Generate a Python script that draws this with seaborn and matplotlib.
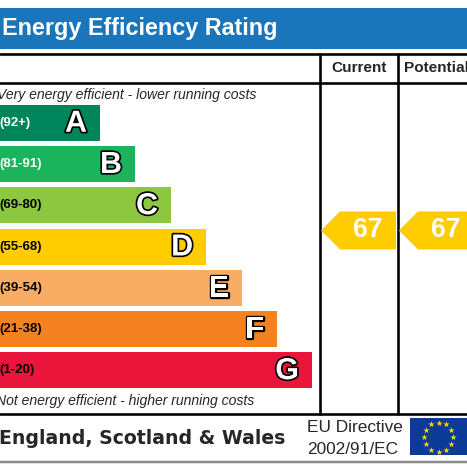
import numpy as np
import matplotlib
matplotlib.use("Agg")
import matplotlib.pyplot as plt
import matplotlib.patheffects as pe
from matplotlib.patches import Rectangle, Polygon
import seaborn as sns

# EPC bands and ratings
bands = ["A", "B", "C", "D", "E", "F", "G"]
ranges = ["(92+)", "(81-91)", "(69-80)", "(55-68)", "(39-54)", "(21-38)", "(1-20)"]
band_lo = [92, 81, 69, 55, 39, 21, 1]
band_hi = [100, 91, 80, 68, 54, 38, 20]
bar_len = [100, 135, 171, 206, 242, 277, 312]
current = 67
potential = 67

colors = ["#00855a", "#1bb35b", "#8dc63f", "#ffcc00", "#f9ac64", "#f58220", "#e9153b"]
blue = "#1b75bb"
arrow_col = "#ffcc00"
W = 467
PT = 72 / 100  # px -> pt at dpi 100

sns.set_theme(style="white")
plt.rcParams["font.family"] = ["Liberation Sans", "DejaVu Sans"]

fig = plt.figure(figsize=(4.67, 4.67), dpi=100)

# background axes in pixel coordinates
bg = fig.add_axes([0, 0, 1, 1])
bg.set_xlim(0, W)
bg.set_ylim(W, 0)
bg.axis("off")

bg.add_patch(Rectangle((0, 7.5), W, 41, color=blue, lw=0))
bg.text(2, 28.5, "Energy Efficiency Rating", color="white", fontsize=23.4 * PT,
        fontweight="bold", va="center", ha="left")

lw = 2.6 * PT
bg.plot([0, W], [53.5, 53.5], color="black", lw=lw)
bg.plot([0, W], [82.5, 82.5], color="black", lw=lw)
bg.plot([0, W], [414, 414], color="black", lw=lw)
bg.plot([320, 320], [53.5, 414], color="black", lw=lw)
bg.plot([398, 398], [53.5, 414], color="black", lw=lw)
bg.plot([0, W], [461.5, 461.5], color="#8a8a8a", lw=2.5 * PT)

bg.text(359, 68.5, "Current", fontsize=15.4 * PT, fontweight="bold", ha="center", va="center")
bg.text(404, 68.5, "Potential", fontsize=15.4 * PT, fontweight="bold", ha="left", va="center")

bg.text(-3, 94.5, "Very energy efficient - lower running costs", fontsize=14 * PT,
        style="italic", ha="left", va="center")
bg.text(-4, 401, "Not energy efficient - higher running costs", fontsize=14 * PT,
        style="italic", ha="left", va="center")

bg.text(-1, 438, "England, Scotland & Wales", family="DejaVu Sans", fontsize=18.9 * PT,
        fontweight="bold", ha="left", va="center")
bg.text(307, 428, "EU Directive", fontsize=17.2 * PT, ha="left", va="center")
bg.text(307, 449, "2002/91/EC", fontsize=17.2 * PT, ha="left", va="center")

bg.add_patch(Rectangle((410, 418), 60, 37, color="#0b3a97", lw=0))
ang = np.linspace(0, 2 * np.pi, 13)[:-1]
bg.scatter(438.5 + 14.5 * np.cos(ang), 437 + 14.5 * np.sin(ang), marker="*",
           s=22, color="#ffdd00", lw=0, zorder=3)

# bar axes: categories mapped onto the bar region
top, bottom = 102.3, 391.0
ax = fig.add_axes([0, 1 - bottom / W, 1, (bottom - top) / W])
ax.patch.set_visible(False)
sns.barplot(x=bar_len, y=bands, hue=bands, palette=colors, legend=False, orient="h",
            width=0.874, saturation=1, linewidth=0, ax=ax)
ax.set_xlim(0, W)
ax.set_ylim(6.5, -0.5)
ax.axis("off")

for i, (b, r, L) in enumerate(zip(bands, ranges, bar_len)):
    ax.text(-1, i, r, fontsize=13.2 * PT, fontweight="bold", va="center", ha="left",
            color="white" if i < 2 else "black")
    ax.text(L - 13, i + 0.02, b, fontsize=30.5 * PT, fontweight="bold", color="white",
            va="center", ha="right",
            path_effects=[pe.withStroke(linewidth=2.4, foreground="black")])


def score_y(s):
    for i, (lo, hi) in enumerate(zip(band_lo, band_hi)):
        if lo <= s <= hi:
            return i - 0.5 + (hi - s + 0.5) / (hi - lo + 1)
    return 6


def arrow(tip_x, body_r, score):
    y = score_y(score)
    h = 19 / 41.23
    pts = [(tip_x, y), (tip_x + 19, y - h), (body_r, y - h), (body_r, y + h), (tip_x + 19, y + h)]
    ax.add_patch(Polygon(pts, closed=True, color=arrow_col, lw=0, clip_on=False))
    ax.text(tip_x + 19 + 27.5, y, str(score), color="white", fontsize=26.5 * PT,
            fontweight="bold", ha="center", va="center")


arrow(321, 396, current)
arrow(399, 472, potential)

fig.savefig("out.png", dpi=100)
